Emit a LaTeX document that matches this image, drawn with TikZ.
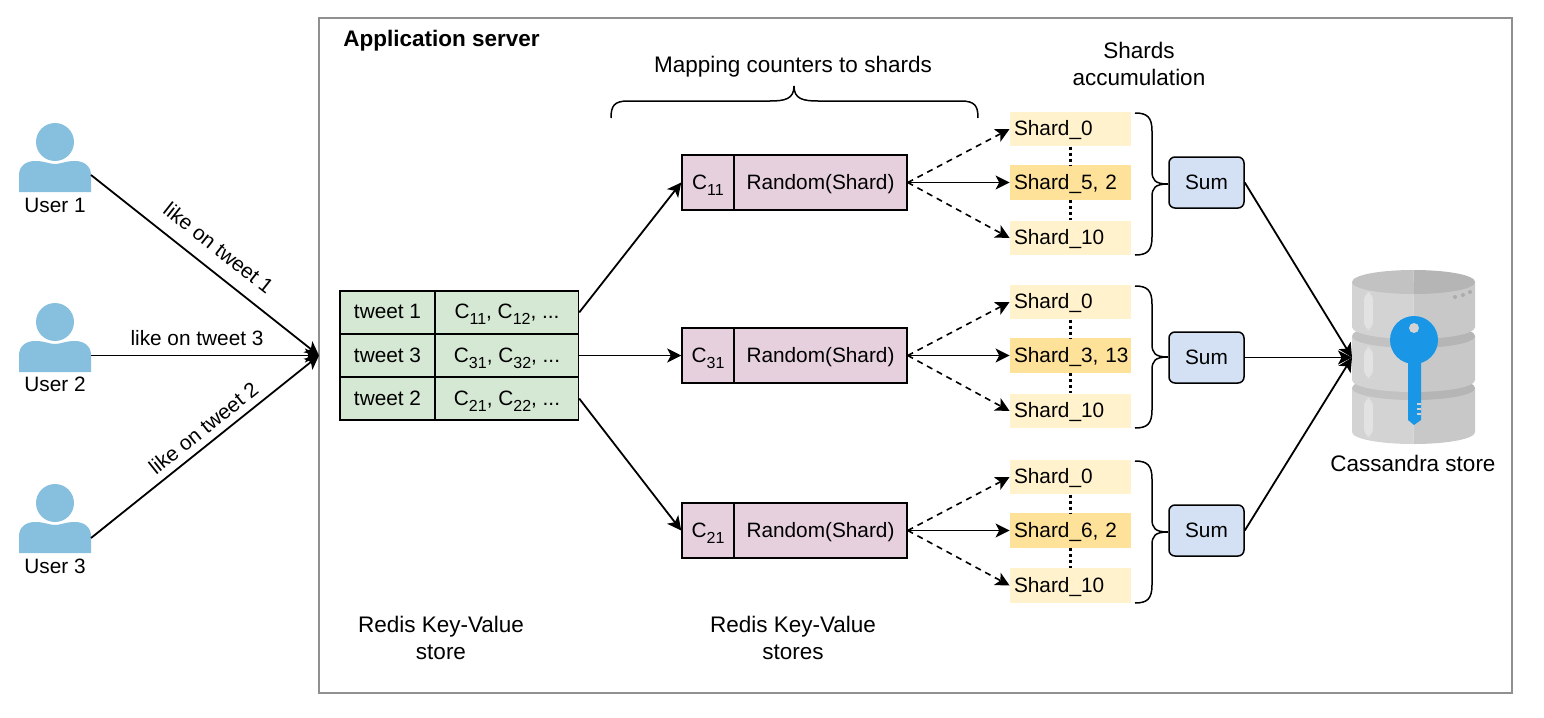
\documentclass[tikz,border=0pt]{standalone}
\usepackage{xcolor}
\usepackage{fontspec}
\setmainfont{Liberation Sans}
\usetikzlibrary{arrows.meta}
\definecolor{usercol}{HTML}{87C0DE}
\definecolor{tablecol}{HTML}{D5E8D4}
\definecolor{mapcol}{HTML}{E6D0DE}
\definecolor{shardcol}{HTML}{FFF2CC}
\definecolor{pickcol}{HTML}{FFE299}
\definecolor{sumcol}{HTML}{D4E1F5}
\definecolor{framecol}{HTML}{909090}
\definecolor{keycol}{HTML}{1A96E6}
\definecolor{dbleft}{HTML}{D3D3D3}
\definecolor{dbright}{HTML}{C8C8C8}
\definecolor{dbtopl}{HTML}{C2C2C2}
\definecolor{dbtopr}{HTML}{B5B5B5}
\newcommand{\subnum}[1]{\raisebox{-.55ex}{\fontsize{8pt}{8pt}\selectfont #1}}
\newcommand{\dbslice}[2]{% top y, bottom y
\fill[dbleft] (1352,#1) -- (1352,#2) .. controls (1352,#2+7) and (1380,#2+12) .. (1413.5,#2+12) -- (1413.5,#1) -- cycle;
\fill[dbright] (1475,#1) -- (1475,#2) .. controls (1475,#2+7) and (1447,#2+12) .. (1413.5,#2+12) -- (1413.5,#1) -- cycle;
\fill[dbtopl] (1352,#1) .. controls (1352,#1+7) and (1380,#1+12) .. (1413.5,#1+12) -- (1413.5,#1-12) .. controls (1380,#1-12) and (1352,#1-7) .. cycle;
\fill[dbtopr] (1475,#1) .. controls (1475,#1+7) and (1447,#1+12) .. (1413.5,#1+12) -- (1413.5,#1-12) .. controls (1447,#1-12) and (1475,#1-7) .. cycle;
}
\tikzset{
 every node/.style={font=\fontsize{10.4pt}{13.5pt}\selectfont},
 bigtext/.style={font=\fontsize{11.25pt}{13.5pt}\selectfont},
 conn/.style={line width=.9pt,-{Stealth[length=7pt,width=7pt,inset=1.8pt]}},
 connd/.style={conn,line width=.8pt,dash pattern=on 3pt off 2.5pt},
 cell/.style={draw,line width=.75pt,inner sep=0pt,text height=6.5pt,text depth=0pt},
 keycell/.style={cell,fill=tablecol,minimum width=47.5pt,minimum height=21.6pt},
 valcell/.style={cell,fill=tablecol,minimum width=71.5pt,minimum height=21.6pt},
 ccell/.style={cell,fill=mapcol,minimum width=26pt,minimum height=27.5pt},
 randcell/.style={cell,fill=mapcol,minimum width=86.5pt,minimum height=27.5pt},
 shard/.style={fill=shardcol,minimum height=17.2pt,text width=56.5pt,inner xsep=2pt,inner ysep=0pt,align=left,text height=6.5pt,text depth=0pt},
 pick/.style={shard,fill=pickcol},
 sumbox/.style={cell,fill=sumcol,rounded corners=3pt,minimum width=37.5pt,minimum height=25.5pt},
 vdots/.style={line width=1.7pt,dash pattern=on 1.5pt off 1.5pt},
 userfig/.pic={
  \fill[usercol] (0,0) circle[radius=19];
  \fill[usercol] (-36,50) -- (-36,33) .. controls (-36,24) and (-29,19) .. (-20,19)
   .. controls (-10,19) and (-6,22) .. (0,22) .. controls (6,22) and (10,19) .. (20,19)
   .. controls (29,19) and (36,24) .. (36,33) -- (36,50) -- cycle;
 },
 bracefig/.pic={
  \draw[line width=.75pt] (0,0) .. controls (12,0) and (17,4) .. (17,18) -- (17,58)
   .. controls (17,67) and (20,71) .. (33,71) .. controls (20,71) and (17,75) .. (17,84)
   -- (17,124) .. controls (17,138) and (12,142) .. (0,142);
 },
}
\begin{document}
\begin{tikzpicture}[x=0.5pt,y=-0.5pt]
\useasboundingbox (0,0) rectangle (1544,718);
\draw[framecol,line width=.75pt] (319,18) rectangle (1512,693);

\pic at (55,142) {userfig};
\pic at (55,322) {userfig};
\pic at (55,503) {userfig};
\node (u1) at (55,205) {User 1};
\node (u2) at (55,384) {User 2};
\node (u3) at (55,566) {User 3};
\coordinate (user1) at (91,175);
\coordinate (user2) at (91,355.5);
\coordinate (user3) at (91,538);
\coordinate (inlet) at (319,355.5);
\draw[conn] (user1) -- (inlet) node[pos=.5,above=5.75pt,sloped,inner sep=1pt] (l1) {like on tweet 1};
\draw[conn] (user2) -- (inlet) node[pos=.465,above=3.5pt,inner sep=1pt] (l3) {like on tweet 3};
\draw[conn] (user3) -- (inlet) node[pos=.535,above=2.5pt,sloped,inner sep=1pt] (l2) {like on tweet 2};

% redis table
\node[keycell] (t1) at (387.5,312.4) {tweet 1};
\node[valcell] (v1) at (507,312.4) {C\subnum{11}, C\subnum{12}, ...};
\node[keycell] (t3) at (387.5,355.5) {tweet 3};
\node[valcell] (v3) at (507,355.5) {C\subnum{31}, C\subnum{32}, ...};
\node[keycell] (t2) at (387.5,398.6) {tweet 2};
\node[valcell] (v2) at (507,398.6) {C\subnum{21}, C\subnum{22}, ...};

% counters
\node[ccell] (c11) at (708,182.5) {C\subnum{11}};
\node[randcell] (r1) at (820.5,182.5) {Random(Shard)};
\node[ccell] (c31) at (708,355.5) {C\subnum{31}};
\node[randcell] (r3) at (820.5,355.5) {Random(Shard)};
\node[ccell] (c21) at (708,530.5) {C\subnum{21}};
\node[randcell] (r2) at (820.5,530.5) {Random(Shard)};
\draw[conn] (v1.east) -- (c11.west);
\draw[conn] (v3.east) -- (c31.west);
\draw[conn] (v2.east) -- (c21.west);

% shards
\node[shard] (s10) at (1070.5,129) {Shard\_0};
\node[pick] (s15) at (1070.5,182.5) {Shard\_5, 2};
\node[shard] (s110) at (1070.5,238) {Shard\_10};
\node[shard] (s20) at (1070.5,302) {Shard\_0};
\node[pick] (s23) at (1070.5,355.5) {\mbox{Shard\_3, 13}};
\node[shard] (s210) at (1070.5,411) {Shard\_10};
\node[shard] (s30) at (1070.5,477) {Shard\_0};
\node[pick] (s36) at (1070.5,530.5) {Shard\_6, 2};
\node[shard] (s310) at (1070.5,585.5) {Shard\_10};
\draw[vdots] (s10) -- (s15);
\draw[vdots] (s15) -- (s110);
\draw[vdots] (s20) -- (s23);
\draw[vdots] (s23) -- (s210);
\draw[vdots] (s30) -- (s36);
\draw[vdots] (s36) -- (s310);
\draw[connd] (r1.east) -- (s10.west);
\draw[conn] (r1.east) -- (s15.west);
\draw[connd] (r1.east) -- (s110.west);
\draw[connd] (r3.east) -- (s20.west);
\draw[conn] (r3.east) -- (s23.west);
\draw[connd] (r3.east) -- (s210.west);
\draw[connd] (r2.east) -- (s30.west);
\draw[conn] (r2.east) -- (s36.west);
\draw[connd] (r2.east) -- (s310.west);

\pic at (1135,113) {bracefig};
\pic at (1135,286) {bracefig};
\pic at (1135,461) {bracefig};
\draw[line width=.75pt] (611,118) .. controls (611,106) and (614,101) .. (628,101) -- (770,101)
 .. controls (785,101) and (794,99) .. (794,86) .. controls (794,99) and (803,101) .. (818,101)
 -- (961,101) .. controls (975,101) and (978,106) .. (978,118);

\node[sumbox] (sum1) at (1206.5,182.5) {Sum};
\node[sumbox] (sum3) at (1206.5,357.5) {Sum};
\node[sumbox] (sum2) at (1206.5,530.5) {Sum};

% cassandra icon
\dbslice{388}{432}
\dbslice{336}{380}
\dbslice{282}{327}
\fill[white,opacity=.35,rounded corners=4pt] (1364,292) rectangle (1373,330);
\fill[white,opacity=.35,rounded corners=4pt] (1364,347) rectangle (1373,378);
\fill[white,opacity=.35,rounded corners=4pt] (1364,398) rectangle (1373,437);
\fill[gray!65] (1455,297) circle[radius=2];
\fill[gray!65] (1463,295) circle[radius=2];
\fill[gray!65] (1470,292) circle[radius=2];
\fill[keycol] (1408,350) -- (1421,350) -- (1421,420) -- (1414,425) -- (1408,420) -- cycle;
\fill[keycol] (1414,340) circle[radius=24];
\fill[dbleft] (1414,328) circle[radius=5];
\fill[dbleft] (1417,403) rectangle (1421,405);
\fill[dbleft] (1417,408) rectangle (1421,410);
\fill[dbleft] (1417,413) rectangle (1421,415);
\coordinate (dbin) at (1352,357.5);
\draw[conn] (sum1.east) -- (dbin);
\draw[conn] (sum3.east) -- (dbin);
\draw[conn] (sum2.east) -- (dbin);

\node[bigtext,anchor=west,inner sep=0pt] (app) at (343,41) {\bfseries Application server};
\node[bigtext] (map) at (793,67) {Mapping counters to shards};
\node[bigtext,align=center] (acc) at (1139,64) {Shards\\accumulation};
\node[bigtext,align=center] (rkv1) at (441,637.5) {Redis Key-Value\\store};
\node[bigtext,align=center] (rkv2) at (793,637.5) {Redis Key-Value\\stores};
\node[bigtext] (cass) at (1413,463) {Cassandra store};
\end{tikzpicture}
\end{document}
